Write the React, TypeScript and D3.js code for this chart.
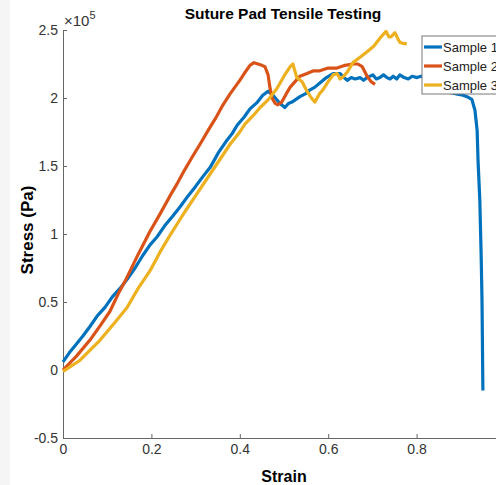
import { useEffect, useRef } from 'react';
import * as d3 from 'd3';

// strain, stress (x10^5 Pa)
const sample1: [number, number][] = [
  [0, 0.06], [0.015, 0.13], [0.03, 0.19], [0.045, 0.25], [0.061, 0.32], [0.078, 0.4],
  [0.095, 0.46], [0.112, 0.54], [0.129, 0.6], [0.146, 0.67], [0.163, 0.75], [0.18, 0.84],
  [0.197, 0.92], [0.213, 0.98], [0.23, 1.06], [0.248, 1.13], [0.265, 1.2], [0.283, 1.28],
  [0.3, 1.35], [0.316, 1.42], [0.333, 1.49], [0.352, 1.6], [0.371, 1.69], [0.383, 1.74],
  [0.394, 1.8], [0.41, 1.86], [0.423, 1.92], [0.44, 1.97], [0.452, 2.02],
  [0.464, 2.05], [0.475, 2.02], [0.491, 1.96], [0.502, 1.93], [0.51, 1.96], [0.518, 1.97],
  [0.527, 1.99], [0.536, 2.01], [0.548, 2.03], [0.559, 2.06], [0.57, 2.08], [0.581, 2.11],
  [0.596, 2.15], [0.611, 2.18], [0.627, 2.18], [0.636, 2.15], [0.643, 2.13], [0.652, 2.15],
  [0.661, 2.14], [0.672, 2.15], [0.68, 2.13], [0.688, 2.15], [0.701, 2.17], [0.709, 2.14],
  [0.717, 2.15], [0.725, 2.17], [0.733, 2.15], [0.74, 2.14], [0.747, 2.16], [0.755, 2.14],
  [0.762, 2.17], [0.772, 2.15], [0.781, 2.14], [0.79, 2.16], [0.801, 2.15], [0.81, 2.16],
  [0.819, 2.15], [0.83, 2.14], [0.842, 2.13], [0.86, 2.09], [0.876, 2.04], [0.89, 2.03],
  [0.905, 2.02], [0.914, 2.01], [0.925, 1.99], [0.932, 1.91], [0.937, 1.76], [0.939, 1.54],
  [0.943, 1.25], [0.946, 0.85], [0.948, 0.51], [0.95, -0.15],
];

const sample2: [number, number][] = [
  [0, 0], [0.03, 0.1], [0.061, 0.22], [0.085, 0.33], [0.106, 0.43], [0.125, 0.56],
  [0.143, 0.67], [0.17, 0.85], [0.197, 1.02], [0.22, 1.15], [0.242, 1.28], [0.26, 1.38],
  [0.275, 1.47], [0.293, 1.57], [0.31, 1.66], [0.328, 1.76], [0.345, 1.85], [0.362, 1.95],
  [0.378, 2.03], [0.4, 2.13], [0.41, 2.18], [0.423, 2.24],
  [0.432, 2.26], [0.441, 2.25], [0.45, 2.24], [0.457, 2.23], [0.464, 2.17], [0.468, 2.08],
  [0.473, 2.0], [0.48, 1.96], [0.486, 1.95], [0.495, 1.97], [0.505, 2.03], [0.514, 2.08],
  [0.525, 2.12], [0.536, 2.16], [0.552, 2.18], [0.567, 2.2], [0.581, 2.2], [0.6, 2.22],
  [0.62, 2.22], [0.638, 2.24], [0.656, 2.25], [0.667, 2.25], [0.677, 2.23], [0.688, 2.16],
  [0.697, 2.12], [0.706, 2.1],
];

const sample3: [number, number][] = [
  [0, -0.01], [0.038, 0.07], [0.084, 0.22], [0.115, 0.34], [0.145, 0.46], [0.17, 0.6],
  [0.197, 0.73], [0.22, 0.87], [0.242, 0.99], [0.275, 1.16], [0.31, 1.33], [0.345, 1.5],
  [0.378, 1.66], [0.4, 1.75], [0.412, 1.81], [0.43, 1.87], [0.446, 1.93], [0.465, 1.99],
  [0.484, 2.07], [0.5, 2.16], [0.514, 2.23], [0.52, 2.25], [0.529, 2.15], [0.541, 2.12],
  [0.552, 2.05], [0.562, 2.0], [0.57, 1.97], [0.58, 2.03], [0.588, 2.06], [0.6, 2.12],
  [0.611, 2.17], [0.62, 2.18], [0.627, 2.14], [0.635, 2.16], [0.643, 2.19], [0.656, 2.26],
  [0.672, 2.3], [0.688, 2.34], [0.703, 2.38], [0.717, 2.44], [0.731, 2.49], [0.737, 2.45],
  [0.742, 2.45], [0.751, 2.48], [0.757, 2.44], [0.762, 2.41], [0.77, 2.4], [0.778, 2.4],
];

const seriesNames = ['Sample 1', 'Sample 2', 'Sample 3'];
const seriesColors = ['#0072BD', '#D95319', '#EDB120'];
const xTicks = [0, 0.2, 0.4, 0.6, 0.8];
const yTicks = [-0.5, 0, 0.5, 1, 1.5, 2, 2.5];

const App = () => {
  const svgRef = useRef<SVGSVGElement>(null);

  useEffect(() => {
    const width = 496;
    const height = 485;
    const font = '"Liberation Sans", Arial, sans-serif';

    const svg = d3.select(svgRef.current);
    svg.selectAll('*').remove();

    svg.append('rect').attr('width', width).attr('height', height).attr('fill', '#fff');
    svg.append('rect').attr('width', 10).attr('height', height).attr('fill', '#f5f5f5');

    const x = d3.scaleLinear().domain([0, 1]).range([63, 505]);
    const y = d3.scaleLinear().domain([-0.5, 2.5]).range([438, 30]);

    const fmt = (d: d3.NumberValue) => String(d);

    // y axis, ticks pointing inward
    const gy = svg.append('g')
      .attr('transform', 'translate(63,0)')
      .call(d3.axisLeft(y).tickValues(yTicks).tickFormat(fmt).tickSizeInner(-4).tickSizeOuter(0).tickPadding(5));

    // x axis
    const gx = svg.append('g')
      .attr('transform', 'translate(0,438)')
      .call(d3.axisBottom(x).tickValues(xTicks).tickFormat(fmt).tickSizeInner(-4).tickSizeOuter(0).tickPadding(6));

    [gx, gy].forEach(g => {
      g.select('.domain').attr('stroke', '#666');
      g.selectAll('line').attr('stroke', '#666');
      g.selectAll('text').attr('fill', '#333').style('font-family', font).style('font-size', '14px');
    });
    gy.selectAll('text').attr('dy', '0.35em');

    // exponent
    const expo = svg.append('text')
      .attr('x', 64)
      .attr('y', 26)
      .attr('fill', '#333')
      .style('font-family', font)
      .style('font-size', '15px');
    expo.append('tspan').text('×10');
    expo.append('tspan').attr('dy', -7).style('font-size', '11px').text('5');

    // lines
    const line = d3.line<[number, number]>()
      .x(d => x(d[0]))
      .y(d => y(d[1]));

    [sample1, sample2, sample3].forEach((s, i) => {
      svg.append('path')
        .datum(s)
        .attr('d', line)
        .attr('fill', 'none')
        .attr('stroke', seriesColors[i])
        .attr('stroke-width', 3.2)
        .attr('stroke-linejoin', 'round');
    });

    // title + labels
    svg.append('text')
      .attr('x', 283)
      .attr('y', 19)
      .attr('text-anchor', 'middle')
      .style('font-family', font)
      .style('font-size', '15.5px')
      .style('font-weight', 'bold')
      .text('Suture Pad Tensile Testing');

    svg.append('text')
      .attr('x', 284)
      .attr('y', 482)
      .attr('text-anchor', 'middle')
      .style('font-family', font)
      .style('font-size', '16px')
      .style('font-weight', 'bold')
      .text('Strain');

    svg.append('text')
      .attr('transform', 'translate(33,230) rotate(-90)')
      .attr('text-anchor', 'middle')
      .style('font-family', font)
      .style('font-size', '17px')
      .style('font-weight', 'bold')
      .text('Stress (Pa)');

    // legend
    const lg = svg.append('g').attr('transform', 'translate(422,36)');
    lg.append('rect')
      .attr('width', 100)
      .attr('height', 58)
      .attr('fill', '#fff')
      .attr('stroke', '#777')
      .attr('stroke-width', 1);

    seriesNames.forEach((name, i) => {
      const cy = 11 + i * 19;
      lg.append('line')
        .attr('x1', 2).attr('x2', 20)
        .attr('y1', cy).attr('y2', cy)
        .attr('stroke', seriesColors[i])
        .attr('stroke-width', 3.2);
      lg.append('text')
        .attr('x', 21)
        .attr('y', cy)
        .attr('dy', '0.35em')
        .attr('fill', '#222')
        .style('font-family', font)
        .style('font-size', '13px')
        .text(name);
    });
  }, []);

  return (
    <svg
      ref={svgRef}
      width={496}
      height={485}
      style={{ position: 'absolute', left: 0, top: 0 }}
    />
  );
};

export default App;
